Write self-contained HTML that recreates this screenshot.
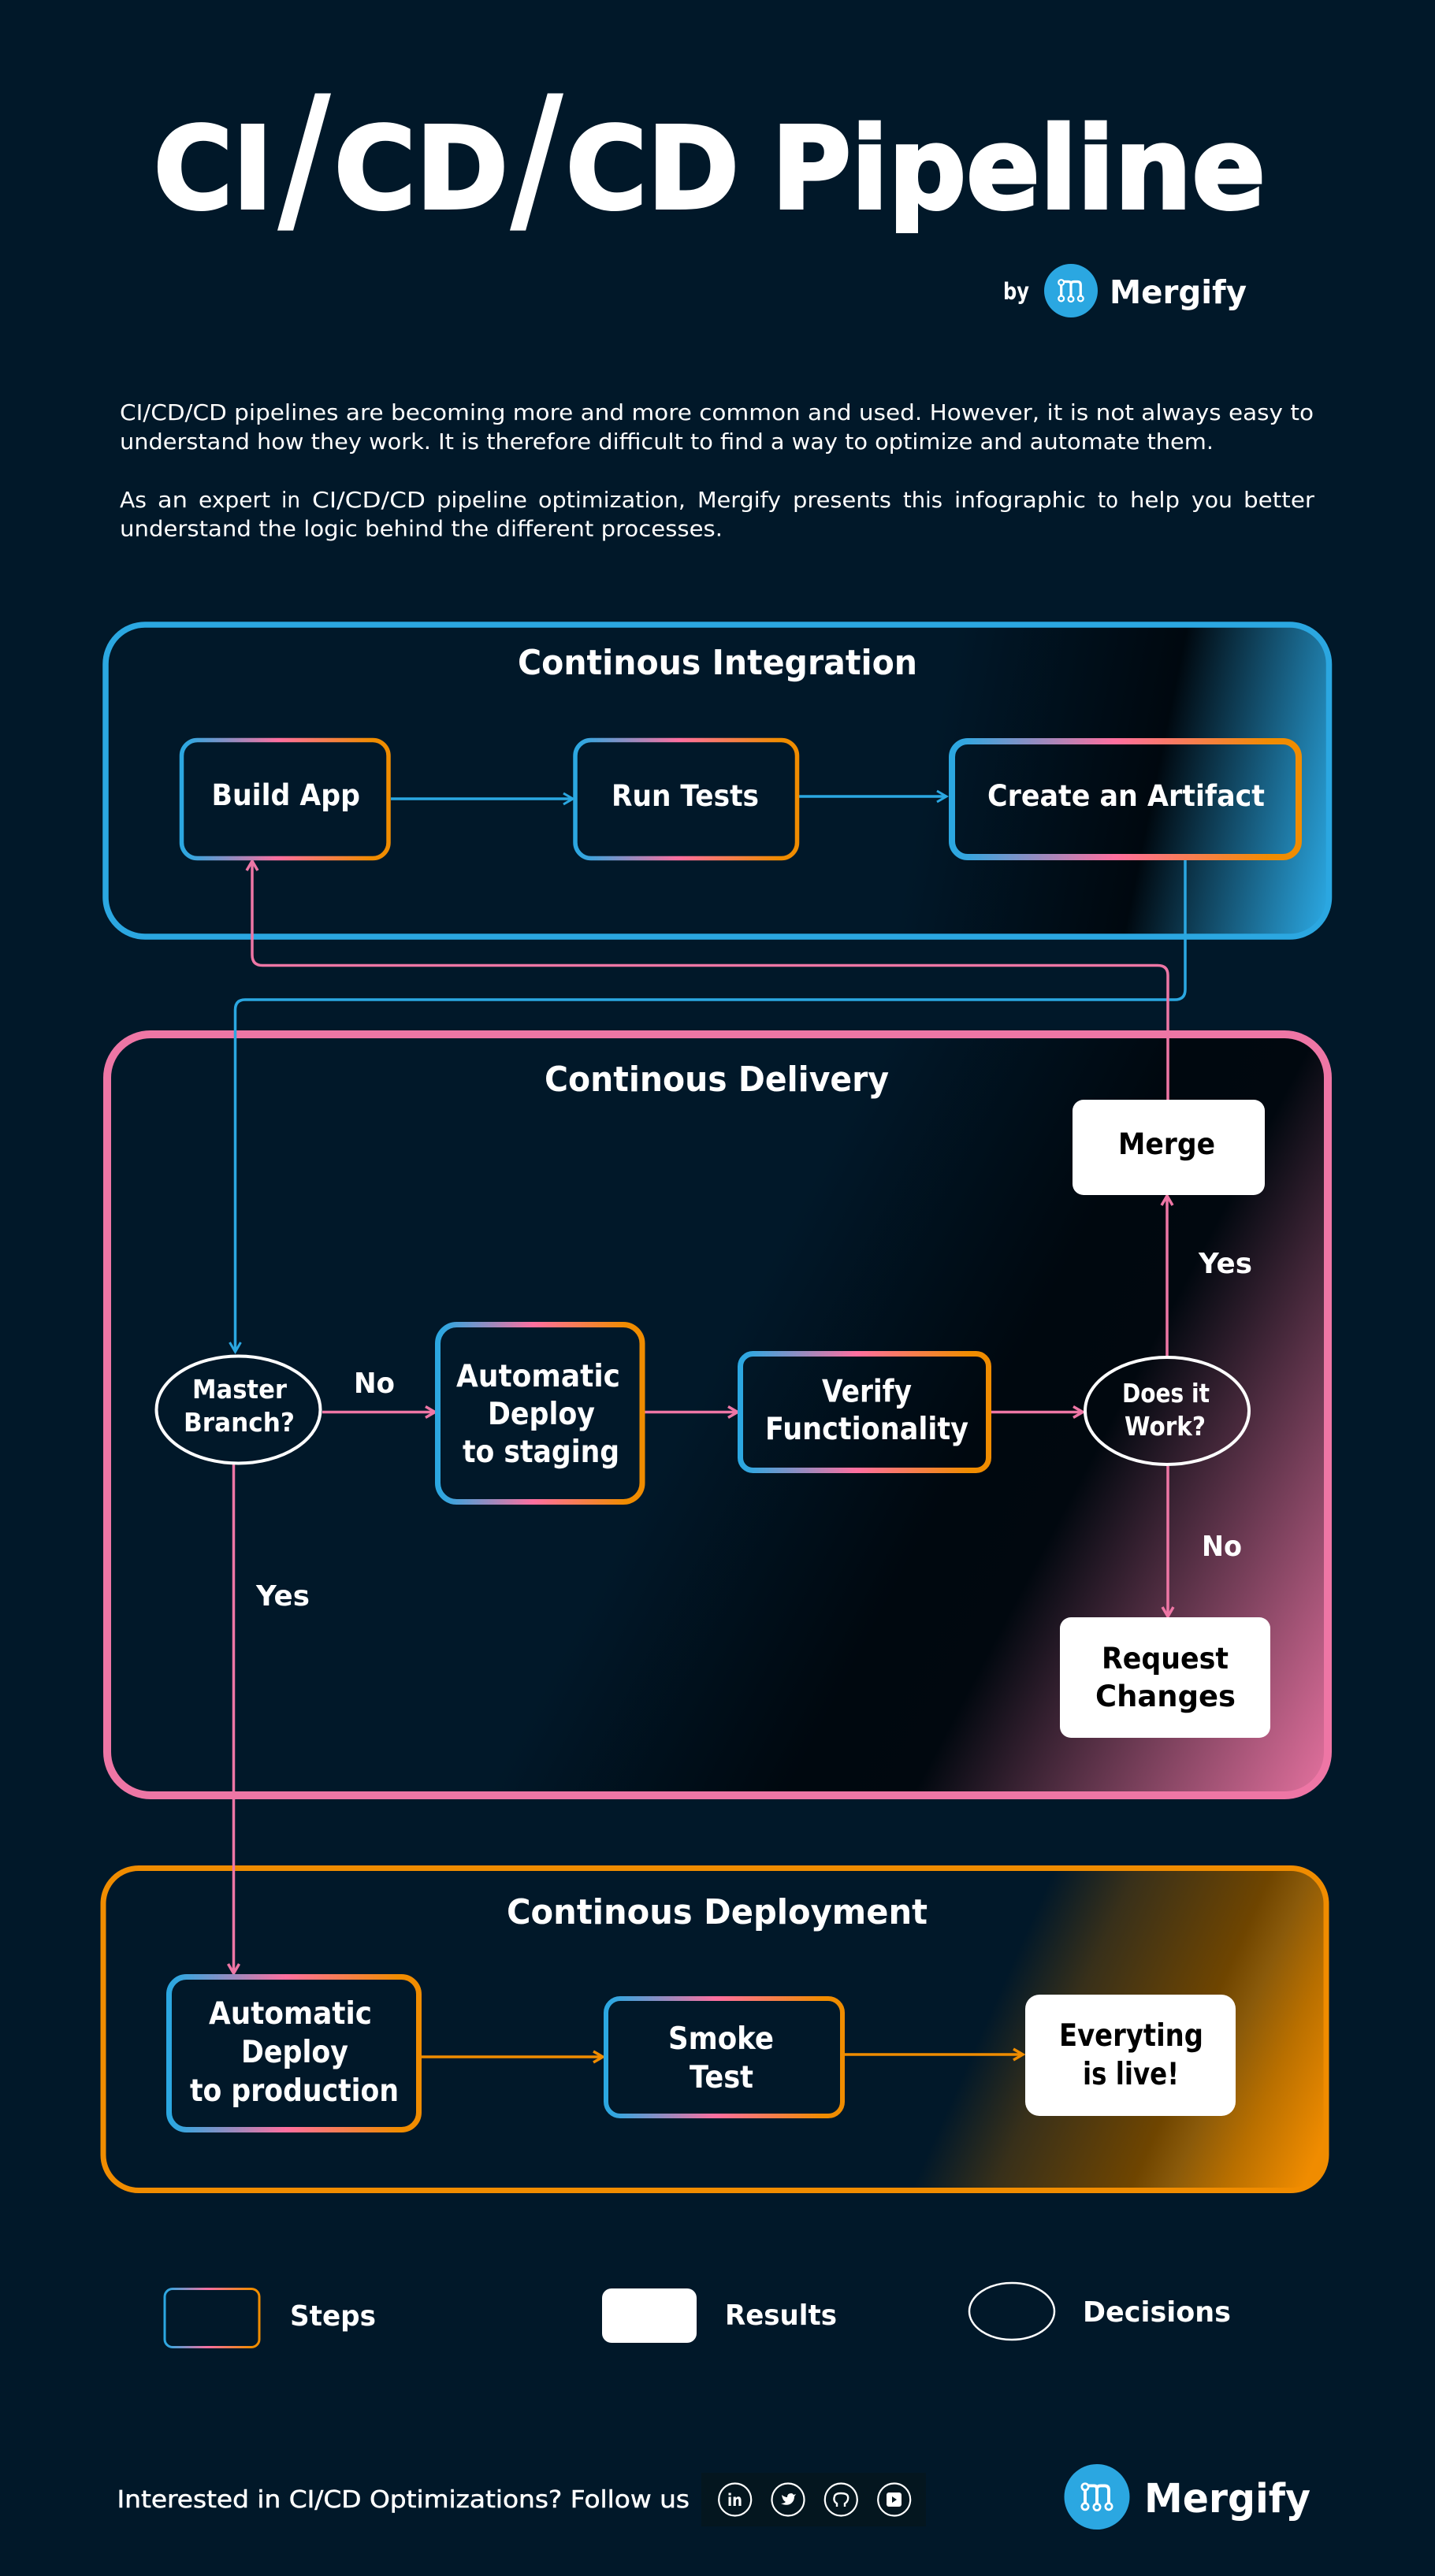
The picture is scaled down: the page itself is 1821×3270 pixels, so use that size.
<!DOCTYPE html>
<html lang="en"><head><meta charset="utf-8"><title>CI/CD/CD Pipeline</title>
<style>
html,body{margin:0;padding:0;background:#011829}
svg{display:block}
text{font-family:"DejaVu Sans","Liberation Sans",sans-serif;fill:#fff;font-weight:700}
.k{fill:#000}
.r{font-weight:400}
.s33{font-size:33px}.s36{font-size:36px}.s37{font-size:37px}.s39{font-size:39px}.s44{font-size:44px}
.body{font-size:28px;font-weight:400}
</style></head><body>
<svg width="1821" height="3270" viewBox="0 0 1821 3270" xmlns="http://www.w3.org/2000/svg">
<defs>
<linearGradient id="step" x1="0" y1="0" x2="1" y2="0"><stop offset="0" stop-color="#2ba7e1"/><stop offset=".04" stop-color="#35a6df"/><stop offset=".47" stop-color="#ff6f9f"/><stop offset=".92" stop-color="#f08c00"/></linearGradient>
<linearGradient id="gi" gradientUnits="userSpaceOnUse" x1="1157" y1="1081" x2="1690" y2="1190"><stop offset="0" stop-color="#011829"/><stop offset=".524" stop-color="#00080f"/><stop offset=".98" stop-color="#2ba7e1"/></linearGradient>
<linearGradient id="gd" gradientUnits="userSpaceOnUse" x1="742" y1="2043" x2="1592" y2="2493.5"><stop offset="0" stop-color="#011829"/><stop offset=".35" stop-color="#00080f"/><stop offset=".497" stop-color="#01080f"/><stop offset="1" stop-color="#ee76a5"/></linearGradient>
<linearGradient id="gp" gradientUnits="userSpaceOnUse" x1="1262" y1="2543" x2="1676" y2="2727"><stop offset="0" stop-color="#011829"/><stop offset=".21" stop-color="#38301a"/><stop offset=".56" stop-color="#6f4500"/><stop offset=".66" stop-color="#8a5a0a"/><stop offset=".8" stop-color="#b86f00"/><stop offset="1" stop-color="#f08c00"/></linearGradient>
<marker id="ab" markerUnits="userSpaceOnUse" markerWidth="30" markerHeight="30" refX="15" refY="15" orient="auto" overflow="visible"><path d="M3,8 L15,15 L3,22" fill="none" stroke="#2ba7e1" stroke-width="3"/></marker>
<marker id="ap" markerUnits="userSpaceOnUse" markerWidth="30" markerHeight="30" refX="15" refY="15" orient="auto" overflow="visible"><path d="M3,8 L15,15 L3,22" fill="none" stroke="#ee76a5" stroke-width="3.5"/></marker>
<marker id="ao" markerUnits="userSpaceOnUse" markerWidth="30" markerHeight="30" refX="15" refY="15" orient="auto" overflow="visible"><path d="M3,8 L15,15 L3,22" fill="none" stroke="#f08c00" stroke-width="3.5"/></marker>
<g id="mlogo" fill="none" stroke="#fff"><g stroke-width="3.2"><path d="M-12.3,-7V7M-9,-11.5H-3Q0,-11.5 0,-8V7.4M0,-8Q0,-11.5 4,-11.5H8Q12.3,-11.5 12.3,-7V7"/></g><g stroke-width="2.2"><circle cx="-12.3" cy="-10.4" r="3.4"/><circle cx="-12.3" cy="10" r="3.4"/><circle cx="0" cy="10.6" r="3.4"/><circle cx="12.3" cy="10" r="3.4"/></g></g>
</defs>
<rect width="1821" height="3270" fill="#011829"/>

<!-- Title -->
<text x="195" y="264" font-size="144" stroke="#fff" stroke-width="4" textLength="151" lengthAdjust="spacingAndGlyphs">CI</text>
<text x="352" y="273" font-size="212" textLength="68" lengthAdjust="spacingAndGlyphs">/</text>
<text x="424" y="264" font-size="144" stroke="#fff" stroke-width="4" textLength="221" lengthAdjust="spacingAndGlyphs">CD</text>
<text x="647" y="273" font-size="212" textLength="68" lengthAdjust="spacingAndGlyphs">/</text>
<text x="718" y="264" font-size="144" stroke="#fff" stroke-width="4" textLength="220" lengthAdjust="spacingAndGlyphs">CD</text>
<text x="979" y="264" font-size="144" stroke="#fff" stroke-width="4" textLength="627" lengthAdjust="spacingAndGlyphs">Pipeline</text>

<!-- By logo -->
<text x="1273" y="380" font-size="29" textLength="33" lengthAdjust="spacingAndGlyphs">by</text>
<circle cx="1359" cy="369" r="34" fill="#2ba7e1"/>
<use href="#mlogo" transform="translate(1359,369)"/>
<text x="1408" y="385" font-size="41" textLength="174" lengthAdjust="spacingAndGlyphs">Mergify</text>

<!-- Body -->
<text class="body" x="152" y="533" textLength="1515" lengthAdjust="spacingAndGlyphs">CI/CD/CD pipelines are becoming more and more common and used. However, it is not always easy to</text>
<text class="body" x="152" y="570" textLength="1388" lengthAdjust="spacingAndGlyphs">understand how they work. It is therefore difficult to find a way to optimize and automate them.</text>
<g>
<text class="body" x="152" y="644" textLength="34" lengthAdjust="spacingAndGlyphs">As</text>
<text class="body" x="200" y="644" textLength="38" lengthAdjust="spacingAndGlyphs">an</text>
<text class="body" x="252" y="644" textLength="91" lengthAdjust="spacingAndGlyphs">expert</text>
<text class="body" x="357" y="644" textLength="24" lengthAdjust="spacingAndGlyphs">in</text>
<text class="body" x="396" y="644" textLength="144" lengthAdjust="spacingAndGlyphs">CI/CD/CD</text>
<text class="body" x="554" y="644" textLength="115" lengthAdjust="spacingAndGlyphs">pipeline</text>
<text class="body" x="683" y="644" textLength="187" lengthAdjust="spacingAndGlyphs">optimization,</text>
<text class="body" x="885" y="644" textLength="106" lengthAdjust="spacingAndGlyphs">Mergify</text>
<text class="body" x="1006" y="644" textLength="125" lengthAdjust="spacingAndGlyphs">presents</text>
<text class="body" x="1146" y="644" textLength="50" lengthAdjust="spacingAndGlyphs">this</text>
<text class="body" x="1211" y="644" textLength="167" lengthAdjust="spacingAndGlyphs">infographic</text>
<text class="body" x="1393" y="644" textLength="26" lengthAdjust="spacingAndGlyphs">to</text>
<text class="body" x="1434" y="644" textLength="63" lengthAdjust="spacingAndGlyphs">help</text>
<text class="body" x="1512" y="644" textLength="52" lengthAdjust="spacingAndGlyphs">you</text>
<text class="body" x="1578" y="644" textLength="90" lengthAdjust="spacingAndGlyphs">better</text>
</g>
<text class="body" x="152" y="680.5" textLength="765" lengthAdjust="spacingAndGlyphs">understand the logic behind the different processes.</text>

<!-- Section panels -->
<rect x="134" y="793" width="1552.5" height="396" rx="50" fill="url(#gi)" stroke="#2ba7e1" stroke-width="7.5"/>
<rect x="136" y="1313" width="1549" height="966" rx="55" fill="url(#gd)" stroke="#ee76a5" stroke-width="10"/>
<rect x="131" y="2371.5" width="1552" height="409" rx="45" fill="url(#gp)" stroke="#f08c00" stroke-width="7"/>

<!-- Section titles -->
<text class="s44" x="657" y="856" textLength="507" lengthAdjust="spacingAndGlyphs">Continous Integration</text>
<text class="s44" x="691" y="1385" textLength="437" lengthAdjust="spacingAndGlyphs">Continous Delivery</text>
<text class="s44" x="643" y="2442" textLength="534" lengthAdjust="spacingAndGlyphs">Continous Deployment</text>

<!-- Connectors -->
<g fill="none" stroke-width="3.5">
<path d="M1504,1092V1256Q1504,1269 1491,1269H311Q298.5,1269 298.5,1282V1716" stroke="#2ba7e1" marker-end="url(#ab)"/>
<path d="M1482,1400V1238Q1482,1225.5 1469,1225.5H333Q320,1225.5 320,1212V1093" stroke="#ee76a5" marker-end="url(#ap)"/>
<path d="M496,1014H727" stroke="#2ba7e1" marker-end="url(#ab)"/>
<path d="M1014,1011H1201" stroke="#2ba7e1" marker-end="url(#ab)"/>
<path d="M409,1792.5H552" stroke="#ee76a5" marker-end="url(#ap)"/>
<path d="M818,1792.5H936" stroke="#ee76a5" marker-end="url(#ap)"/>
<path d="M1256,1792.5H1374" stroke="#ee76a5" marker-end="url(#ap)"/>
<path d="M1481,1721V1518" stroke="#ee76a5" marker-end="url(#ap)"/>
<path d="M1482,1861V2052" stroke="#ee76a5" marker-end="url(#ap)"/>
<path d="M296.5,1859V2505" stroke="#ee76a5" marker-end="url(#ap)"/>
<path d="M535,2611H765" stroke="#f08c00" marker-end="url(#ao)"/>
<path d="M1072,2608H1298" stroke="#f08c00" marker-end="url(#ao)"/>
</g>

<!-- CI nodes -->
<rect x="230.5" y="939.5" width="262.5" height="150" rx="20" fill="none" stroke="url(#step)" stroke-width="5.5"/>
<rect x="730" y="939.5" width="281.5" height="150" rx="20" fill="none" stroke="url(#step)" stroke-width="5.5"/>
<rect x="1208" y="941" width="440" height="147" rx="20" fill="none" stroke="url(#step)" stroke-width="8"/>
<text class="s37" x="268.5" y="1022" textLength="188.5" lengthAdjust="spacingAndGlyphs">Build App</text>
<text class="s37" x="776" y="1023" textLength="187" lengthAdjust="spacingAndGlyphs">Run Tests</text>
<text class="s37" x="1253" y="1023" textLength="352" lengthAdjust="spacingAndGlyphs">Create an Artifact</text>

<!-- CD nodes -->
<rect x="1361" y="1396" width="244" height="121" rx="14" fill="#fff"/>
<text class="s37 k" x="1419" y="1465" textLength="123" lengthAdjust="spacingAndGlyphs">Merge</text>
<ellipse cx="302.5" cy="1789.5" rx="104" ry="68" fill="none" stroke="#fff" stroke-width="4"/>
<text class="s33" x="244" y="1775" textLength="120" lengthAdjust="spacingAndGlyphs">Master</text>
<text class="s33" x="233" y="1817" textLength="141" lengthAdjust="spacingAndGlyphs">Branch?</text>
<rect x="555.5" y="1681.5" width="259.5" height="225" rx="24" fill="none" stroke="url(#step)" stroke-width="7"/>
<text class="s39" x="579" y="1760" textLength="208" lengthAdjust="spacingAndGlyphs">Automatic</text>
<text class="s39" x="619" y="1808" textLength="136" lengthAdjust="spacingAndGlyphs">Deploy</text>
<text class="s39" x="587" y="1856" textLength="199" lengthAdjust="spacingAndGlyphs">to staging</text>
<rect x="939.5" y="1718.5" width="315" height="148" rx="16" fill="none" stroke="url(#step)" stroke-width="7"/>
<text class="s39" x="1043" y="1779.5" textLength="114" lengthAdjust="spacingAndGlyphs">Verify</text>
<text class="s39" x="971" y="1827" textLength="258" lengthAdjust="spacingAndGlyphs">Functionality</text>
<ellipse cx="1481" cy="1791" rx="104" ry="68" fill="none" stroke="#fff" stroke-width="4"/>
<text class="s33" x="1424" y="1780" textLength="111" lengthAdjust="spacingAndGlyphs">Does it</text>
<text class="s33" x="1427" y="1822" textLength="103" lengthAdjust="spacingAndGlyphs">Work?</text>
<rect x="1345" y="2053" width="267" height="153" rx="14" fill="#fff"/>
<text class="s37 k" x="1398" y="2118" textLength="161" lengthAdjust="spacingAndGlyphs">Request</text>
<text class="s37 k" x="1390" y="2166" textLength="178" lengthAdjust="spacingAndGlyphs">Changes</text>
<text class="s36" x="1521" y="1616" textLength="68" lengthAdjust="spacingAndGlyphs">Yes</text>
<text class="s36" x="1525" y="1975" textLength="51" lengthAdjust="spacingAndGlyphs">No</text>
<text class="s36" x="325" y="2038" textLength="68" lengthAdjust="spacingAndGlyphs">Yes</text>
<text class="s36" x="449" y="1768" textLength="52" lengthAdjust="spacingAndGlyphs">No</text>

<!-- Deployment nodes -->
<rect x="214.5" y="2509.5" width="317" height="194" rx="22" fill="none" stroke="url(#step)" stroke-width="7"/>
<text class="s39" x="265" y="2569" textLength="207" lengthAdjust="spacingAndGlyphs">Automatic</text>
<text class="s39" x="306" y="2618" textLength="136" lengthAdjust="spacingAndGlyphs">Deploy</text>
<text class="s39" x="241" y="2667" textLength="265" lengthAdjust="spacingAndGlyphs">to production</text>
<rect x="769" y="2537" width="300" height="149" rx="18" fill="none" stroke="url(#step)" stroke-width="6"/>
<text class="s39" x="848" y="2601" textLength="134" lengthAdjust="spacingAndGlyphs">Smoke</text>
<text class="s39" x="875" y="2650" textLength="81" lengthAdjust="spacingAndGlyphs">Test</text>
<rect x="1301" y="2532" width="267" height="154" rx="18" fill="#fff"/>
<text class="s39 k" x="1344" y="2597" textLength="183" lengthAdjust="spacingAndGlyphs">Everyting</text>
<text class="s39 k" x="1374" y="2646" textLength="122" lengthAdjust="spacingAndGlyphs">is live!</text>

<!-- Legend -->
<rect x="209" y="2905.5" width="120" height="74" rx="10" fill="none" stroke="url(#step)" stroke-width="3"/>
<text class="s36" x="368" y="2952" textLength="109" lengthAdjust="spacingAndGlyphs">Steps</text>
<rect x="764" y="2905" width="120" height="69" rx="12" fill="#fff"/>
<text class="s36" x="920" y="2951" textLength="142" lengthAdjust="spacingAndGlyphs">Results</text>
<ellipse cx="1284" cy="2934" rx="54" ry="36" fill="none" stroke="#fff" stroke-width="2.5"/>
<text class="s36" x="1374" y="2947" textLength="188" lengthAdjust="spacingAndGlyphs">Decisions</text>

<!-- Footer -->
<text x="148.5" y="3183" font-size="30" class="r" stroke="#fff" stroke-width=".5" textLength="726.5" lengthAdjust="spacingAndGlyphs">Interested in CI/CD Optimizations? Follow us</text>
<rect x="890" y="3139" width="285" height="68" fill="#04161f"/>
<g fill="none" stroke="#fff" stroke-width="2.2">
<circle cx="932.7" cy="3173" r="20.5"/><circle cx="1000" cy="3173" r="20.5"/><circle cx="1067.3" cy="3173" r="20.5"/><circle cx="1134.7" cy="3173" r="20.5"/>
</g>
<text x="923" y="3181" font-size="21" textLength="19" lengthAdjust="spacingAndGlyphs">in</text>
<path d="M992,3167Q996,3170 999,3170Q999,3165 1004,3165Q1006,3165 1007,3167L1010,3166L1008,3169Q1008,3176 1002,3179Q997,3181 991,3178Q995,3178 997,3176Q993,3174 992,3167Z" fill="#fff"/>
<path d="M1062,3182V3178Q1057,3175 1059,3169Q1060,3165 1067,3165Q1075,3165 1076,3169Q1077,3175 1072,3178V3182" fill="none" stroke="#fff" stroke-width="2.4"/>
<rect x="1125" y="3164" width="19" height="18" rx="3" fill="#fff"/><path d="M1132,3169L1138,3173L1132,3177Z" fill="#04161f"/>
<circle cx="1392" cy="3169.5" r="41.5" fill="#2ba7e1"/>
<use href="#mlogo" transform="translate(1392,3169.5) scale(1.22)"/>
<text x="1452" y="3189" font-size="51" textLength="211" lengthAdjust="spacingAndGlyphs">Mergify</text>
</svg>
</body></html>
